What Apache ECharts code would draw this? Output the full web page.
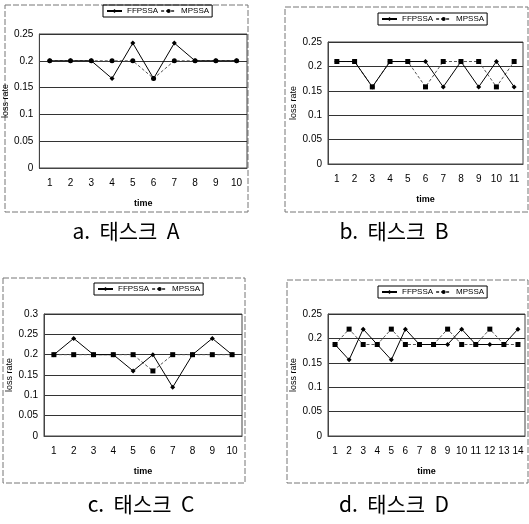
<!DOCTYPE html>
<html>
<head>
<meta charset="utf-8">
<script src="https://cdn.jsdelivr.net/npm/echarts@6/dist/echarts.min.js"></script>
<style>
  html, body { margin: 0; padding: 0; background: #fff; }
  #chart { width: 529px; height: 524px; }
</style>
</head>
<body>
<div id="chart"></div>
<script>
// categories (time)
const timeA = ['1', '2', '3', '4', '5', '6', '7', '8', '9', '10'];
const timeB = ['1', '2', '3', '4', '5', '6', '7', '8', '9', '10', '11'];
const timeC = ['1', '2', '3', '4', '5', '6', '7', '8', '9', '10'];
const timeD = ['1', '2', '3', '4', '5', '6', '7', '8', '9', '10', '11', '12', '13', '14'];

// loss rate values
const ffpssaA = [0.2, 0.2, 0.2, 0.167, 0.233, 0.167, 0.233, 0.2, 0.2, 0.2];
const mpssaA = [0.2, 0.2, 0.2, 0.2, 0.2, 0.167, 0.2, 0.2, 0.2, 0.2];
const ffpssaB = [0.21, 0.21, 0.158, 0.21, 0.21, 0.21, 0.158, 0.21, 0.158, 0.21, 0.158];
const mpssaB = [0.21, 0.21, 0.158, 0.21, 0.21, 0.158, 0.21, 0.21, 0.21, 0.158, 0.21];
const ffpssaC = [0.2, 0.24, 0.2, 0.2, 0.16, 0.2, 0.12, 0.2, 0.24, 0.2];
const mpssaC = [0.2, 0.2, 0.2, 0.2, 0.2, 0.16, 0.2, 0.2, 0.2, 0.2];
const ffpssaD = [0.1875, 0.156, 0.219, 0.1875, 0.156, 0.219, 0.1875, 0.1875, 0.1875, 0.219, 0.1875, 0.1875, 0.1875, 0.219];
const mpssaD = [0.1875, 0.219, 0.1875, 0.1875, 0.219, 0.1875, 0.1875, 0.1875, 0.219, 0.1875, 0.1875, 0.219, 0.1875, 0.1875];

const yMax = [0.25, 0.25, 0.3, 0.25];
const captions = ['a.  태스크  A', 'b.  태스크  B', 'c.  태스크  C', 'd.  태스크  D'];

const chart = echarts.init(document.getElementById('chart'), null, { renderer: 'canvas' });

const grids = [
  { left: 36, top: 34, width: 211, height: 134 },
  { left: 328, top: 42, width: 195, height: 122 },
  { left: 44, top: 314, width: 198, height: 122 },
  { left: 328, top: 314, width: 197, height: 122 }
];
const yNameGap = [21, 30, 30, 30];
const cats = [timeA, timeB, timeC, timeD];
const ffp = [ffpssaA, ffpssaB, ffpssaC, ffpssaD];
const mps = [mpssaA, mpssaB, mpssaC, mpssaD];
const mpsSymbol = ['circle', 'rect', 'rect', 'rect'];

const smallFont = { fontFamily: 'Liberation Sans', fontSize: 10, color: '#000' };
const narrowFont = { fontFamily: 'Liberation Sans Narrow, Liberation Sans', fontSize: 8, color: '#000' };

const legendPos = [
  { left: 103, top: 5 },
  { left: 378, top: 13 },
  { left: 94, top: 283 },
  { left: 378, top: 286 }
];

const frames = [
  [5, 5, 243, 207],
  [285, 7, 243, 205],
  [3, 278, 242, 205],
  [287, 280, 241, 203]
];
const captionPos = [[126, 231], [394, 231], [141, 504], [394, 504]];

const option = {
  animation: false,
  backgroundColor: '#fff',
  grid: grids.map(g => ({ ...g, show: true, borderColor: '#444', borderWidth: 1 })),
  legend: legendPos.map(p => ({
    ...p,
    data: ['FFPSSA', 'MPSSA'],
    orient: 'horizontal',
    padding: [2, 3],
    itemGap: 2,
    itemWidth: 15,
    itemHeight: 5,
    borderColor: '#000',
    borderWidth: 1,
    textStyle: narrowFont
  })),
  xAxis: cats.map((c, i) => ({
    type: 'category',
    gridIndex: i,
    data: c,
    boundaryGap: true,
    name: 'time',
    nameLocation: 'middle',
    nameGap: 31,
    nameTextStyle: { ...narrowFont, fontSize: 9, fontWeight: 'bold' },
    axisLine: { lineStyle: { color: '#444' } },
    axisTick: { show: false },
    axisLabel: { ...smallFont, margin: 10, interval: 0 }
  })),
  yAxis: yMax.map((m, i) => ({
    type: 'value',
    gridIndex: i,
    min: 0,
    max: m,
    interval: 0.05,
    name: 'loss rate',
    nameLocation: 'middle',
    nameRotate: 90,
    nameGap: yNameGap[i],
    nameTextStyle: { ...narrowFont, fontSize: 9 },
    axisLine: { show: true, lineStyle: { color: '#444' } },
    axisTick: { show: false },
    axisLabel: { ...smallFont, margin: 6 },
    splitLine: { lineStyle: { color: '#333', width: 1 } }
  })),
  series: [],
  graphic: []
};

for (let i = 0; i < 4; i++) {
  option.series.push({
    name: 'FFPSSA',
    type: 'line',
    xAxisIndex: i,
    yAxisIndex: i,
    data: ffp[i],
    symbol: 'diamond',
    symbolSize: 5,
    lineStyle: { color: '#000', width: 1 },
    itemStyle: { color: '#000' },
    z: 3
  });
  option.series.push({
    name: 'MPSSA',
    type: 'line',
    xAxisIndex: i,
    yAxisIndex: i,
    data: mps[i],
    symbol: mpsSymbol[i],
    symbolSize: 5,
    lineStyle: { color: '#555', width: 1, type: [3, 2] },
    itemStyle: { color: '#000' },
    z: 2
  });
  const f = frames[i];
  option.graphic.push({
    type: 'rect',
    shape: { x: f[0], y: f[1], width: f[2], height: f[3] },
    style: { fill: null, stroke: '#777', lineWidth: 1, lineDash: [6, 2] },
    z: -1
  });
  option.graphic.push({
    type: 'text',
    x: captionPos[i][0],
    y: captionPos[i][1],
    style: {
      text: captions[i],
      fontFamily: 'Noto Sans CJK KR',
      fontSize: 21,
      fill: '#000',
      align: 'center',
      verticalAlign: 'middle'
    }
  });
}

chart.setOption(option);
</script>
</body>
</html>
